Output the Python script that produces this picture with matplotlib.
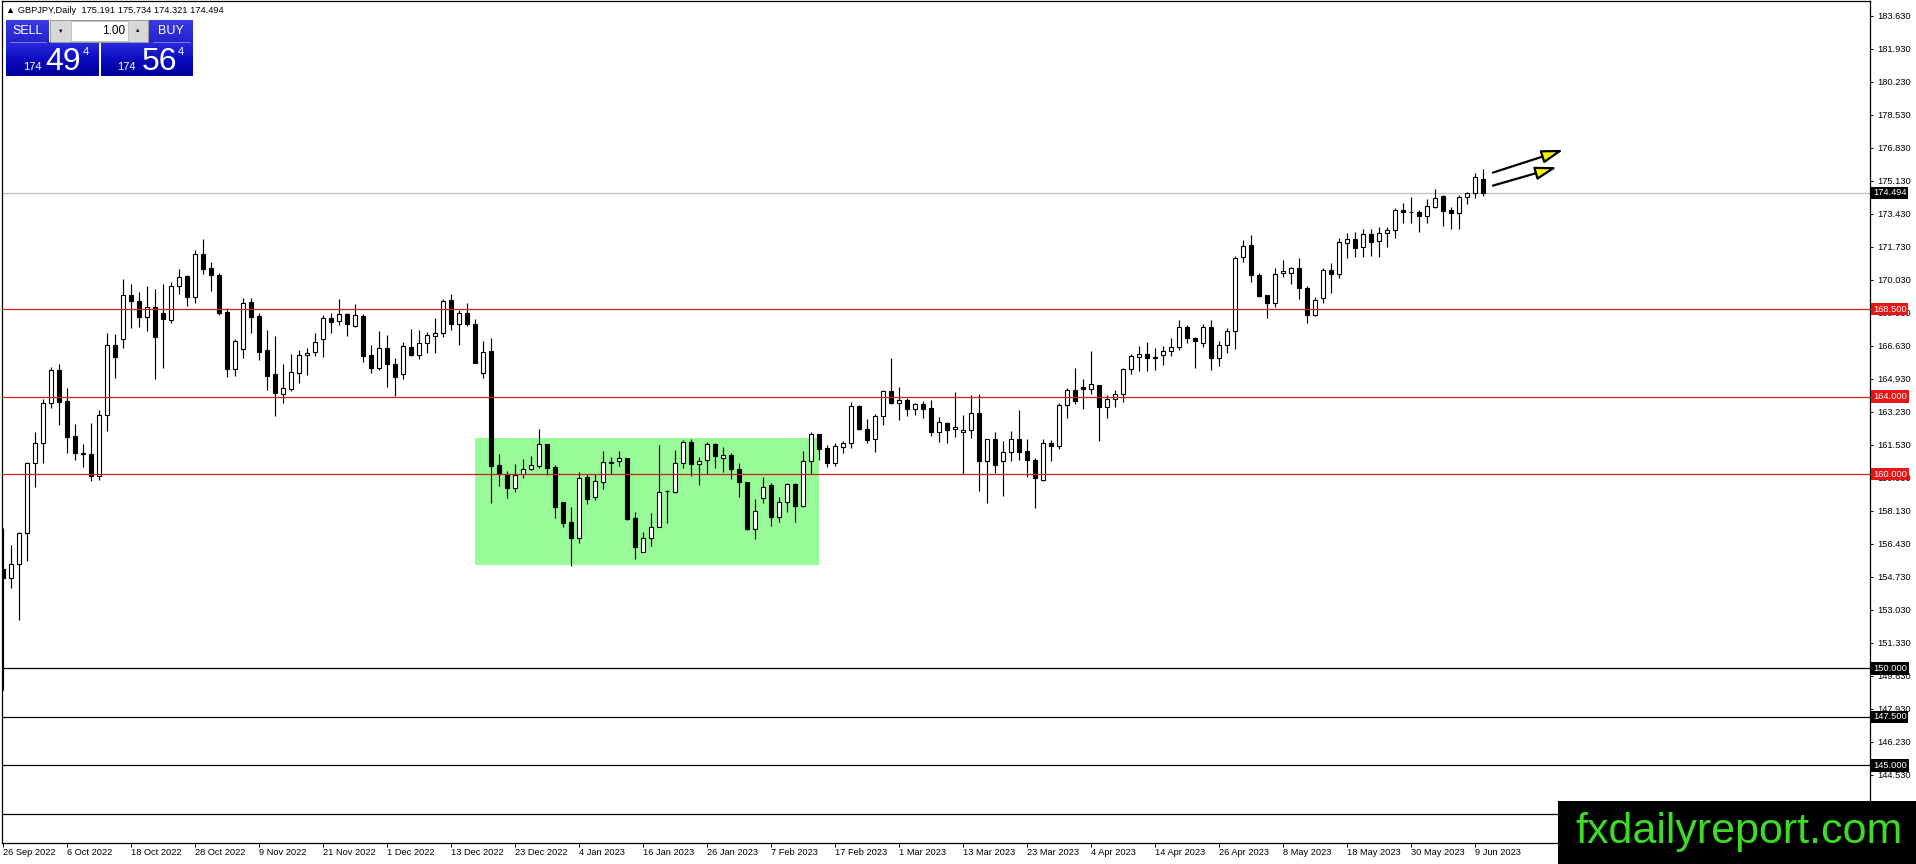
import matplotlib
matplotlib.use('Agg')
import matplotlib.pyplot as plt
from matplotlib.patches import Rectangle
from matplotlib.colors import LinearSegmentedColormap
import numpy as np

plt.rcParams['font.family'] = ['Liberation Sans', 'DejaVu Sans']

# GBPJPY daily candles, 26 Sep 2022 .. 12 Jun 2023
opens = [
    155.11, 154.64, 155.36, 156.96, 160.57, 161.63, 163.66, 165.38, 163.78, 161.97,
    161.05, 161.05, 159.93, 163.06, 166.66, 166.96, 169.24, 168.93, 168.12, 168.60,
    168.29, 167.95, 169.70, 170.22, 169.15, 171.33, 170.61, 170.27, 168.35, 165.41,
    166.44, 168.90, 168.16, 166.41, 165.17, 164.12, 164.40, 165.24, 166.13, 166.29,
    166.96, 168.04, 167.87, 168.24, 167.66, 168.16, 166.15, 165.46, 166.49, 165.68,
    165.15, 166.54, 166.15, 166.75, 167.14, 167.26, 168.98, 167.73, 168.29, 167.73,
    165.20, 166.35, 160.48, 160.00, 159.28, 160.00, 160.26, 160.44, 161.54, 160.39,
    158.55, 157.52, 156.73, 159.85, 158.81, 159.59, 160.65, 160.70, 160.82, 157.73,
    156.01, 156.70, 157.30, 159.14, 159.08, 160.56, 161.68, 160.51, 160.74, 161.54,
    160.82, 160.99, 160.26, 159.59, 157.18, 158.76, 159.45, 157.82, 158.56, 159.48,
    158.38, 160.70, 162.06, 161.34, 160.60, 161.42, 161.60, 163.52, 162.33, 161.80,
    163.02, 164.29, 163.66, 163.83, 163.35, 163.61, 163.39, 162.20, 162.63, 162.32,
    162.16, 162.28, 163.14, 160.70, 161.82, 160.69, 161.13, 161.82, 161.20, 160.74,
    159.71, 161.60, 161.48, 163.57, 164.34, 164.48, 164.38, 164.60, 163.48, 163.86,
    164.12, 165.41, 166.06, 166.18, 166.06, 166.15, 166.37, 166.58, 167.61, 167.01,
    166.75, 167.57, 165.98, 166.66, 167.38, 171.18, 171.82, 170.27, 169.24, 168.81,
    170.36, 170.39, 170.61, 169.58, 168.21, 169.07, 170.53, 170.30, 171.89, 172.10,
    171.69, 172.36, 172.02, 172.41, 172.59, 173.62, 173.50, 173.53, 173.32, 173.79,
    174.33, 173.62, 173.44, 174.27, 174.47, 175.191]
highs = [
    157.22, 156.36, 157.05, 160.62, 162.18, 163.86, 165.55, 165.68, 164.43, 162.59,
    161.56, 162.66, 163.31, 167.30, 167.23, 170.06, 169.81, 169.41, 169.70, 169.55,
    169.81, 169.93, 170.56, 170.27, 171.56, 172.12, 170.92, 170.36, 168.55, 166.97,
    169.07, 169.07, 168.29, 167.44, 167.10, 165.68, 166.18, 166.41, 166.49, 167.26,
    168.21, 168.29, 169.03, 168.29, 168.78, 168.24, 166.66, 167.38, 167.18, 165.98,
    166.80, 167.49, 167.44, 167.32, 168.04, 169.03, 169.29, 168.47, 168.81, 168.00,
    166.84, 167.01, 161.05, 160.19, 160.53, 160.77, 160.94, 162.32, 161.54, 160.48,
    158.55, 158.33, 160.14, 160.02, 160.02, 161.20, 160.87, 161.20, 160.86, 158.07,
    157.01, 157.99, 161.51, 159.19, 161.25, 161.77, 161.80, 160.87, 161.68, 161.63,
    161.39, 161.11, 160.60, 159.59, 158.73, 159.88, 159.57, 158.81, 159.57, 159.57,
    161.20, 162.20, 162.06, 161.51, 161.60, 161.72, 163.74, 163.57, 162.85, 163.09,
    164.34, 166.01, 164.51, 163.91, 163.66, 163.79, 163.83, 162.93, 162.68, 164.25,
    163.05, 164.08, 164.14, 161.82, 162.16, 161.71, 162.23, 163.31, 161.82, 160.82,
    161.80, 161.77, 163.66, 164.43, 165.46, 164.89, 166.35, 164.60, 164.08, 164.34,
    165.46, 166.20, 166.61, 166.80, 166.49, 166.61, 167.01, 167.95, 167.69, 167.09,
    167.75, 167.95, 166.84, 167.52, 171.25, 172.07, 172.33, 170.39, 169.24, 170.61,
    171.04, 170.70, 171.13, 169.72, 169.12, 170.61, 170.87, 172.16, 172.41, 172.47,
    172.62, 172.64, 172.76, 172.72, 173.74, 173.96, 174.27, 173.62, 174.18, 174.68,
    174.38, 173.75, 174.38, 174.56, 175.54, 175.734]
lows = [
    148.90, 154.13, 152.50, 155.55, 159.36, 160.57, 163.40, 162.54, 161.08, 160.74,
    160.39, 159.67, 159.71, 162.25, 164.98, 166.53, 167.56, 167.61, 167.40, 164.93,
    165.50, 167.81, 169.29, 168.69, 168.84, 170.30, 169.46, 168.21, 165.03, 165.08,
    165.98, 167.26, 165.89, 164.34, 163.00, 163.66, 164.31, 164.69, 165.12, 166.10,
    166.06, 167.30, 167.69, 167.14, 167.61, 165.80, 165.20, 165.38, 164.47, 164.04,
    164.89, 166.11, 165.92, 166.27, 166.27, 167.09, 167.44, 166.66, 167.64, 165.72,
    164.95, 158.54, 159.41, 158.76, 159.07, 159.83, 160.22, 160.34, 159.96, 157.77,
    157.30, 155.28, 156.44, 158.45, 158.68, 159.24, 160.00, 160.44, 157.65, 155.62,
    156.01, 156.33, 157.30, 157.51, 159.02, 160.31, 159.93, 159.45, 160.00, 160.34,
    160.14, 159.74, 158.85, 157.13, 156.66, 158.50, 157.35, 157.56, 158.07, 157.53,
    158.33, 160.02, 160.74, 160.39, 160.45, 161.11, 161.37, 162.28, 161.63, 161.17,
    162.54, 163.60, 162.80, 163.00, 163.06, 162.92, 161.97, 161.68, 161.60, 161.90,
    160.00, 161.85, 159.16, 158.54, 160.05, 158.90, 160.69, 160.74, 159.88, 158.25,
    159.67, 160.70, 161.30, 162.91, 163.60, 163.37, 164.14, 161.71, 162.88, 163.48,
    163.74, 165.17, 165.34, 165.34, 165.37, 165.63, 166.10, 166.41, 166.78, 165.50,
    166.54, 165.38, 165.58, 166.27, 166.44, 170.96, 169.93, 169.12, 168.04, 168.64,
    170.15, 169.81, 169.03, 167.81, 168.17, 168.84, 169.36, 170.10, 171.16, 171.21,
    171.18, 171.26, 171.21, 171.69, 172.19, 172.96, 172.93, 172.50, 172.93, 173.70,
    172.81, 172.64, 172.64, 173.93, 174.25, 174.321]
closes = [
    154.64, 155.36, 156.96, 160.57, 161.60, 163.66, 165.38, 163.74, 161.94, 161.12,
    161.05, 159.93, 163.06, 166.66, 166.06, 169.24, 168.95, 168.12, 168.60, 167.06,
    167.99, 169.70, 170.18, 169.15, 171.33, 170.56, 170.24, 168.33, 165.41, 166.84,
    168.84, 168.12, 166.32, 165.08, 164.21, 164.43, 165.25, 166.13, 166.27, 166.83,
    168.04, 167.83, 168.24, 167.73, 168.19, 166.11, 165.46, 166.49, 165.67, 165.00,
    166.61, 166.15, 166.75, 167.18, 167.26, 168.93, 167.73, 168.29, 167.73, 165.75,
    166.29, 160.44, 160.00, 159.28, 159.96, 160.26, 160.48, 161.54, 160.34, 158.33,
    157.47, 156.73, 159.82, 158.73, 159.67, 160.65, 160.58, 160.82, 157.70, 156.27,
    156.70, 157.30, 159.11, 159.12, 160.60, 161.68, 160.51, 160.70, 161.54, 160.94,
    160.99, 160.26, 159.59, 157.18, 158.11, 159.36, 157.82, 158.56, 159.48, 158.38,
    160.70, 162.06, 161.30, 160.60, 161.47, 161.60, 163.52, 162.32, 161.77, 163.00,
    164.29, 163.66, 163.83, 163.35, 163.61, 163.36, 162.20, 162.68, 162.28, 162.42,
    162.28, 163.14, 160.70, 161.82, 160.48, 161.13, 161.82, 161.17, 160.74, 159.83,
    161.60, 161.48, 163.57, 164.34, 163.79, 164.38, 164.63, 163.48, 163.88, 164.14,
    165.41, 166.10, 166.18, 165.98, 166.01, 166.37, 166.58, 167.57, 167.01, 166.84,
    167.57, 165.98, 166.66, 167.38, 171.13, 171.76, 170.24, 169.20, 168.81, 170.32,
    170.48, 170.61, 169.58, 168.21, 168.98, 170.53, 170.30, 171.94, 172.10, 171.64,
    172.36, 171.98, 172.41, 172.59, 173.62, 173.50, 173.50, 173.32, 173.82, 174.22,
    173.58, 173.44, 174.27, 174.47, 175.30, 174.494]

date_labels = ['26 Sep 2022', '6 Oct 2022', '18 Oct 2022', '28 Oct 2022', '9 Nov 2022',
               '21 Nov 2022', '1 Dec 2022', '13 Dec 2022', '23 Dec 2022', '4 Jan 2023',
               '16 Jan 2023', '26 Jan 2023', '7 Feb 2023', '17 Feb 2023', '1 Mar 2023',
               '13 Mar 2023', '23 Mar 2023', '4 Apr 2023', '14 Apr 2023', '26 Apr 2023',
               '8 May 2023', '18 May 2023', '30 May 2023', '9 Jun 2023']
bars_per_label = 8

price_ticks = ['183.630', '181.930', '180.230', '178.530', '176.830', '175.130', '173.430',
               '171.730', '170.030', '168.330', '166.630', '164.930', '163.230', '161.530',
               '159.830', '158.130', '156.430', '154.730', '153.030', '151.330', '149.630',
               '147.930', '146.230', '144.530']

red_levels = [168.5, 164.0, 160.0]
black_levels = [150.0, 147.5, 145.0, 142.5]
bid = 174.494
header = '\u25b2 GBPJPY,Daily  175.191 175.734 174.321 174.494'

# range box (bar index from/to, price from/to)
zone_bars = [59, 102]
zone_prices = [155.33, 161.85]

# the two up arrows: (tail, tip) in bar index / price
arrows = [((186.2, 175.54), (195.0, 176.71)),
          ((186.2, 174.87), (194.2, 175.82))]

W, H = 1916, 864
fig = plt.figure(figsize=(W / 100, H / 100), dpi=100)
ax = fig.add_axes([2 / W, (H - 843.3) / H, (1870 - 2) / W, (843.3 - 1) / H])
ax.set_xlim(-0.17, (1870 - 3.33) / 8)
ax.set_ylim(140.99, 184.38)

o = np.array(opens); h = np.array(highs); l = np.array(lows); c = np.array(closes)
idx = np.arange(len(o))

# green consolidation box
ax.add_patch(Rectangle((zone_bars[0], zone_prices[0]), zone_bars[1] - zone_bars[0],
                       zone_prices[1] - zone_prices[0], facecolor='#98fb98',
                       edgecolor='none', zorder=0.5))

ax.axhline(bid, color='#c0c0c0', lw=0.9, zorder=1)

# candles
ax.vlines(idx, l, h, color='black', lw=0.85, zorder=2)
up = c >= o
body = np.maximum(np.abs(c - o), 0.03)
ax.bar(idx, body, bottom=np.minimum(o, c), width=0.48,
       color=np.where(up, 'white', 'black'), edgecolor='black', linewidth=0.8, zorder=3)

for lv in red_levels:
    ax.axhline(lv, color='#cc1f1f', lw=0.9, zorder=4)
for lv in black_levels:
    ax.axhline(lv, color='black', lw=0.9, zorder=4)

for tail, tip in arrows:
    ax.annotate('', xy=tip, xytext=tail,
                arrowprops=dict(arrowstyle='-|>,head_length=0.65,head_width=0.2',
                                mutation_scale=20, fc='#f5f500', ec='black', lw=1.6,
                                shrinkA=0, shrinkB=0), zorder=5)

# axes
for s in ['top', 'left', 'right', 'bottom']:
    ax.spines[s].set_linewidth(0.9)
    ax.spines[s].set_color('black')
ax.yaxis.tick_right()
ax.set_yticks([float(t) for t in price_ticks])
ax.set_yticklabels(price_ticks)
ax.tick_params(axis='y', direction='out', length=2.5, width=0.7, pad=2.5,
               labelsize=6.7, colors='black')
xt = np.arange(len(date_labels)) * bars_per_label
ax.set_xticks(xt)
ax.set_xticklabels(date_labels, ha='left')
ax.tick_params(axis='x', direction='out', length=3, width=0.7, pad=0.5,
               labelsize=6.7, colors='black')

# price tags on the right scale
def tag(level, text, color):
    ax.annotate(text, xy=(1, level), xycoords=('axes fraction', 'data'),
                xytext=(3, 0), textcoords='offset pixels', ha='left', va='center',
                fontsize=6.7, color='white', zorder=6, annotation_clip=False,
                bbox=dict(boxstyle='square,pad=0.18', fc=color, ec='none'))

tag(bid, '174.494', 'black')
for lv in red_levels:
    tag(lv, '%.3f' % lv, '#e81515')
for lv in black_levels[:3]:
    tag(lv, '%.3f' % lv, 'black')

# overlay in pixel coordinates: header, one-click panel, logo
ov = fig.add_axes([0, 0, 1, 1], zorder=10)
ov.set_xlim(0, W)
ov.set_ylim(H, 0)
ov.axis('off')
ov.patch.set_alpha(0)

ov.text(6, 10.5, header, fontsize=6.7, ha='left', va='center', color='black')

blue_cm = LinearSegmentedColormap.from_list('b', ['#2a2ae0', '#0c0cc0', '#00009a'])
grad = np.linspace(0, 1, 64).reshape(-1, 1)
lab_cm = LinearSegmentedColormap.from_list('l', ['#3a3ae6', '#2424cc'])
for x0, x1 in [(6, 49), (149, 193)]:
    ov.imshow(grad, extent=[x0, x1, 42, 20], cmap=lab_cm, aspect='auto', zorder=1)
for x0, x1 in [(6, 99), (101, 193)]:
    ov.imshow(grad, extent=[x0, x1, 76, 42], cmap=blue_cm, aspect='auto', zorder=1)
ov.plot([10, 46], [41.5, 41.5], color='#8a8af0', lw=0.6, zorder=2)
ov.plot([153, 190], [41.5, 41.5], color='#8a8af0', lw=0.6, zorder=2)
ov.text(27.5, 31, 'SELL', fontsize=9, color='white', ha='center', va='center', zorder=3)
ov.text(171, 31, 'BUY', fontsize=9, color='white', ha='center', va='center', zorder=3)

# lot size spin box
ov.add_patch(Rectangle((50, 20), 98, 22, fc='#d8d8d8', ec='#9a9a9a', lw=0.7, zorder=2))
ov.add_patch(Rectangle((71, 21), 57, 20, fc='white', ec='#b0b0b0', lw=0.5, zorder=3))
ov.text(61, 31, '\u25bc', fontsize=4, color='black', ha='center', va='center', zorder=3)
ov.text(137.5, 31, '\u25b2', fontsize=4, color='black', ha='center', va='center', zorder=3)
ov.text(125, 31, '1.00', fontsize=8.5, color='black', ha='right', va='center', zorder=4)

for x_small, x_big, x_sup, big in [(23, 45, 83, '49'), (117, 142, 178, '56')]:
    ov.text(x_small, 70, '174', fontsize=8, color='white', ha='left', va='baseline', zorder=3)
    ov.text(x_big, 70, big, fontsize=23, color='white', ha='left', va='baseline', zorder=3)
    ov.text(x_sup, 55, '4', fontsize=8, color='white', ha='left', va='baseline', zorder=3)

ov.imshow(np.zeros((2, 2)), extent=[1558, W, H, 801], cmap='gray', vmin=0, vmax=1,
          aspect='auto', zorder=5)
ov.text(1575, 843, 'fxdailyreport.com', fontsize=31, color='#3cdc24', ha='left',
        va='baseline', zorder=6)
ov.set_xlim(0, W)
ov.set_ylim(H, 0)

fig.savefig('out.png', dpi=100, facecolor='white')
